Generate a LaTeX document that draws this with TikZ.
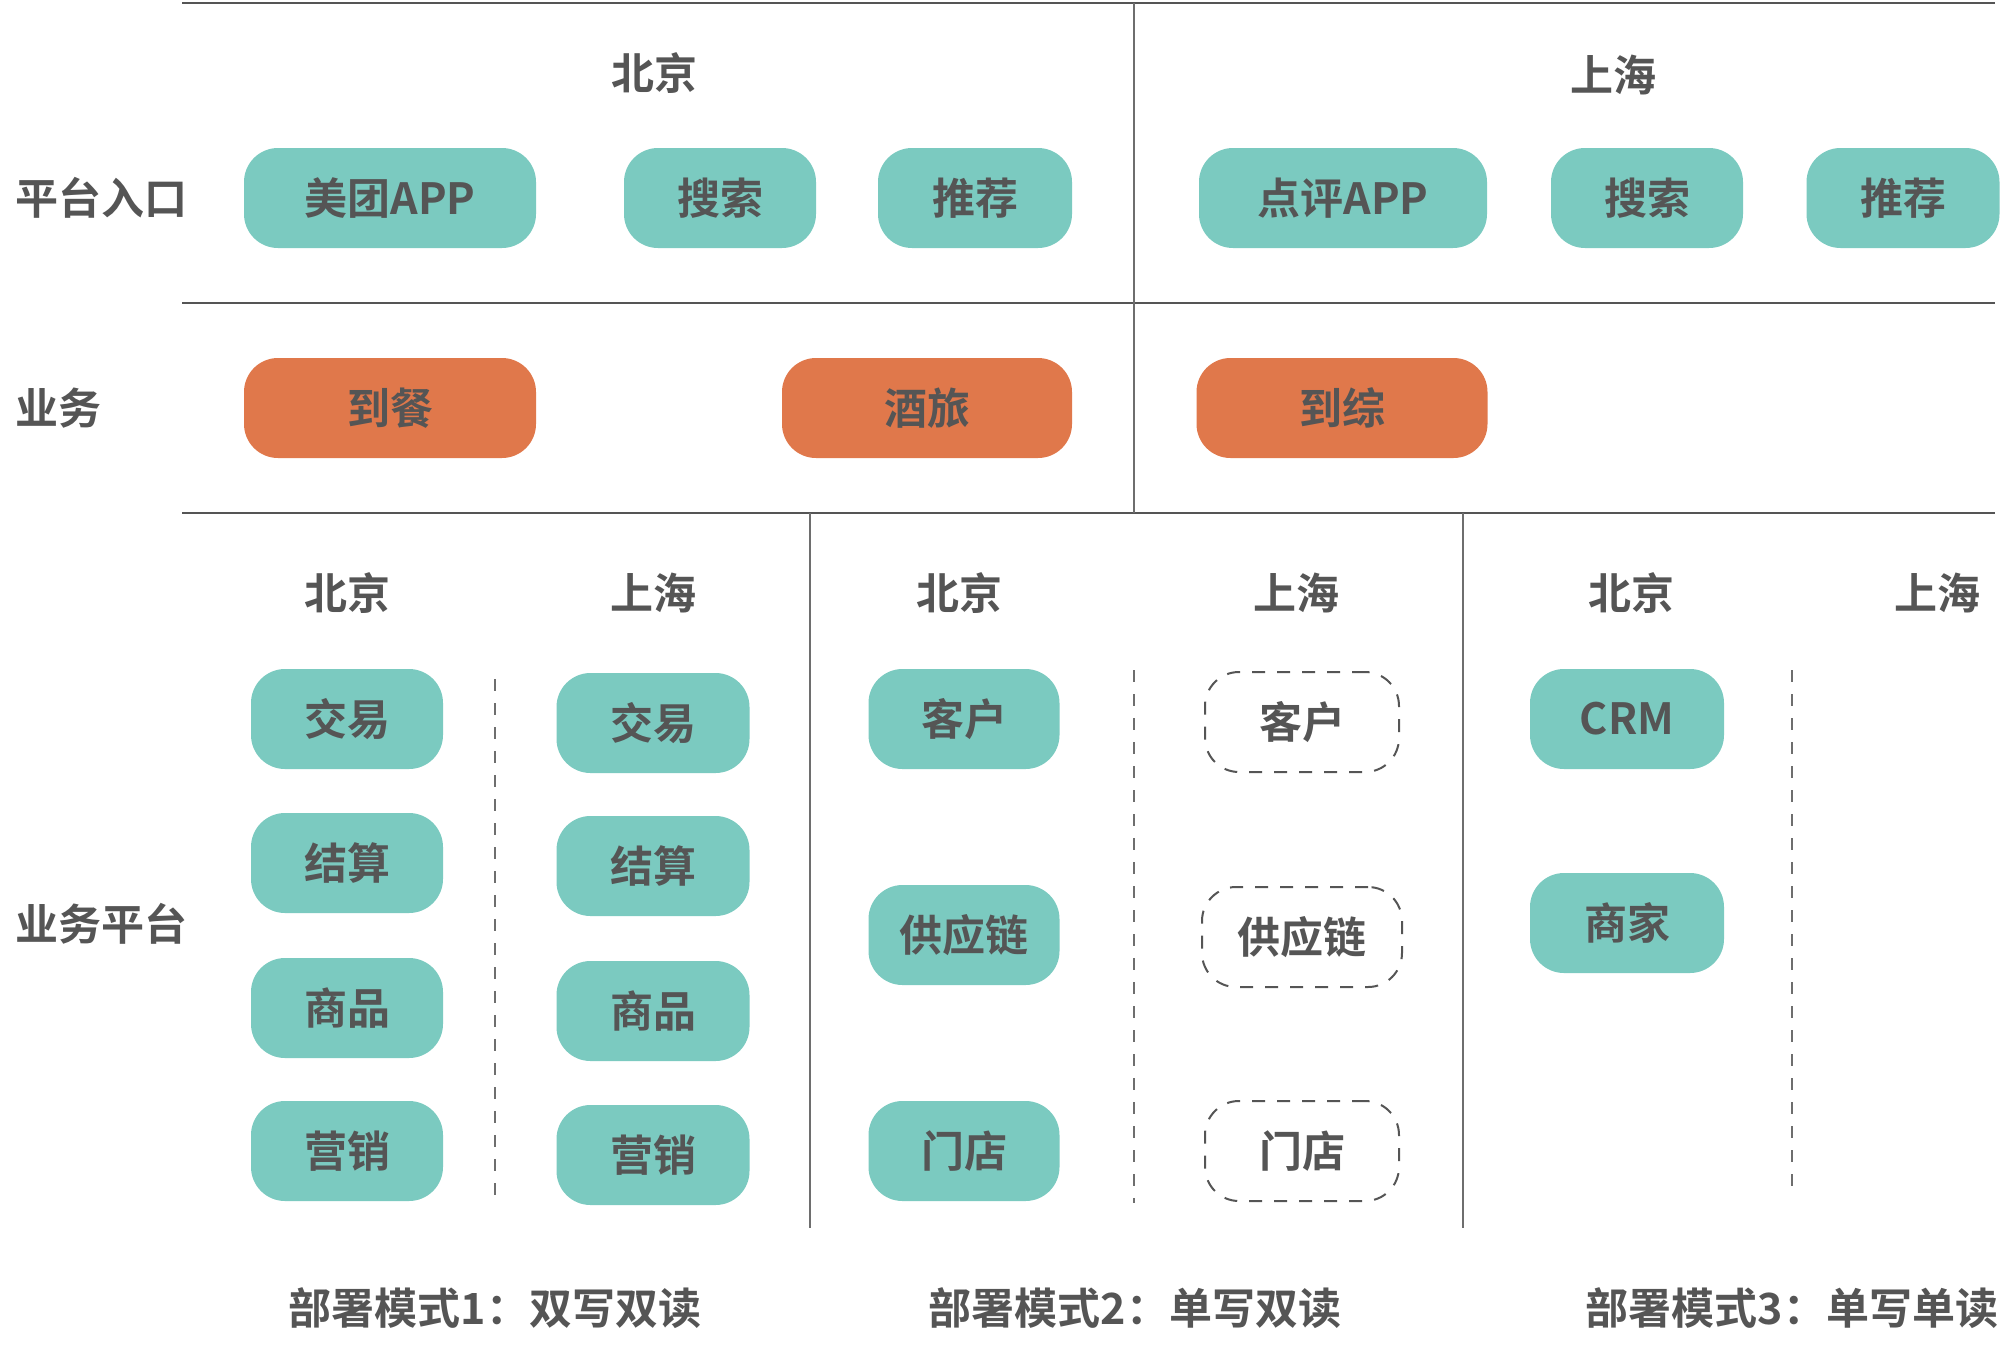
\documentclass[tikz,border=0pt]{standalone}
\usepackage{fontspec}
\newfontfamily\cjk{Noto Sans CJK SC}[BoldFont={* Bold}]
\definecolor{mteal}{HTML}{7BCAC0}
\definecolor{morange}{HTML}{E0784B}
\definecolor{mtext}{HTML}{555555}
\definecolor{linec}{HTML}{555555}
\definecolor{vlinec}{HTML}{6E6E6E}
\begin{document}
\begin{tikzpicture}[x=1pt,y=-1pt,
  every node/.style={font=\cjk\bfseries\fontsize{43}{43}\selectfont, text=mtext},
  pill/.style={rounded corners=34pt, minimum height=100pt, inner sep=0pt},
  tpill/.style={pill, fill=mteal},
  opill/.style={pill, fill=morange},
  dpill/.style={pill, draw=mtext, line width=2pt, dash pattern=on 13pt off 12pt, fill=white},
  hline/.style={draw=linec, line width=2.2pt},
  vline/.style={draw=vlinec, line width=2pt},
  dline/.style={draw=vlinec, line width=2pt, dash pattern=on 12pt off 12pt}]
\useasboundingbox (0,0) rectangle (2016,1350);

% grid lines
\coordinate (h1l) at (182,3);   \coordinate (h1r) at (1995,3);
\coordinate (h2l) at (182,303); \coordinate (h2r) at (1995,303);
\coordinate (h3l) at (182,513); \coordinate (h3r) at (1995,513);
\coordinate (v1t) at (1134,3);  \coordinate (v1b) at (1134,513);
\coordinate (v2t) at (810,513); \coordinate (v2b) at (810,1228);
\coordinate (v3t) at (1463,513); \coordinate (v3b) at (1463,1228);
\coordinate (d1t) at (495,679); \coordinate (d1b) at (495,1196);
\coordinate (d2t) at (1134,670); \coordinate (d2b) at (1134,1203);
\coordinate (d3t) at (1792,670); \coordinate (d3b) at (1792,1188);
\draw[hline] (h1l) -- (h1r);
\draw[hline] (h2l) -- (h2r);
\draw[hline] (h3l) -- (h3r);
\draw[vline] (v1t) -- (v1b);
\draw[vline] (v2t) -- (v2b);
\draw[vline] (v3t) -- (v3b);
\draw[dline] (d1t) -- (d1b);
\draw[dline] (d2t) -- (d2b);
\draw[dline] (d3t) -- (d3b);

% row labels
\node[anchor=west] (lentry) at (12,198) {平台入口};
\node[anchor=west] (lbiz) at (12,408) {业务};
\node[anchor=west] (lplat) at (12,924) {业务平台};

% top city headers
\node (tbj) at (654,73) {北京};
\node (tsh) at (1613,75) {上海};

% platform entries
\node[tpill, minimum width=292pt] (meituan) at (390,198) {美团APP};
\node[tpill, minimum width=192pt] (bjsearch) at (720,198) {搜索};
\node[tpill, minimum width=194pt] (bjrec) at (975,198) {推荐};
\node[tpill, minimum width=288pt] (dianping) at (1343,198) {点评APP};
\node[tpill, minimum width=192pt] (shsearch) at (1647,198) {搜索};
\node[tpill, minimum width=193pt] (shrec) at (1903,198) {推荐};

% businesses
\node[opill, minimum width=292pt] (daocan) at (390,408) {到餐};
\node[opill, minimum width=290pt] (jiulv) at (927,408) {酒旅};
\node[opill, minimum width=291pt] (daozong) at (1342,408) {到综};

% lower headers
\node (h1) at (347,593) {北京};
\node (h2) at (653,593) {上海};
\node (h3) at (959,593) {北京};
\node (h4) at (1296,593) {上海};
\node (h5) at (1631,593) {北京};
\node (h6) at (1937,593) {上海};

% mode 1 Beijing
\node[tpill, minimum width=192pt] (m1bja) at (347,719) {交易};
\node[tpill, minimum width=192pt] (m1bjb) at (347,863) {结算};
\node[tpill, minimum width=192pt] (m1bjc) at (347,1008) {商品};
\node[tpill, minimum width=192pt] (m1bjd) at (347,1151) {营销};
% mode 1 Shanghai
\node[tpill, minimum width=193pt] (m1sha) at (653,723) {交易};
\node[tpill, minimum width=193pt] (m1shb) at (653,866) {结算};
\node[tpill, minimum width=193pt] (m1shc) at (653,1011) {商品};
\node[tpill, minimum width=193pt] (m1shd) at (653,1155) {营销};

% mode 2 Beijing
\node[tpill, minimum width=191pt] (m2bja) at (964,719) {客户};
\node[tpill, minimum width=191pt] (m2bjb) at (964,935) {供应链};
\node[tpill, minimum width=191pt] (m2bjc) at (964,1151) {门店};
% mode 2 Shanghai
\node[dpill, minimum width=194pt] (m2sha) at (1302,722) {客户};
\node[dpill, minimum width=200pt] (m2shb) at (1302,937) {供应链};
\node[dpill, minimum width=194pt] (m2shc) at (1302,1151) {门店};

% mode 3 Beijing
\node[tpill, minimum width=194pt] (m3bja) at (1627,719) {CRM};
\node[tpill, minimum width=194pt] (m3bjb) at (1627,923) {商家};

% mode captions
\node (cap1) at (495,1308) {部署模式1：双写双读};
\node (cap2) at (1135,1308) {部署模式2：单写双读};
\node (cap3) at (1792,1308) {部署模式3：单写单读};
\end{tikzpicture}
\end{document}
